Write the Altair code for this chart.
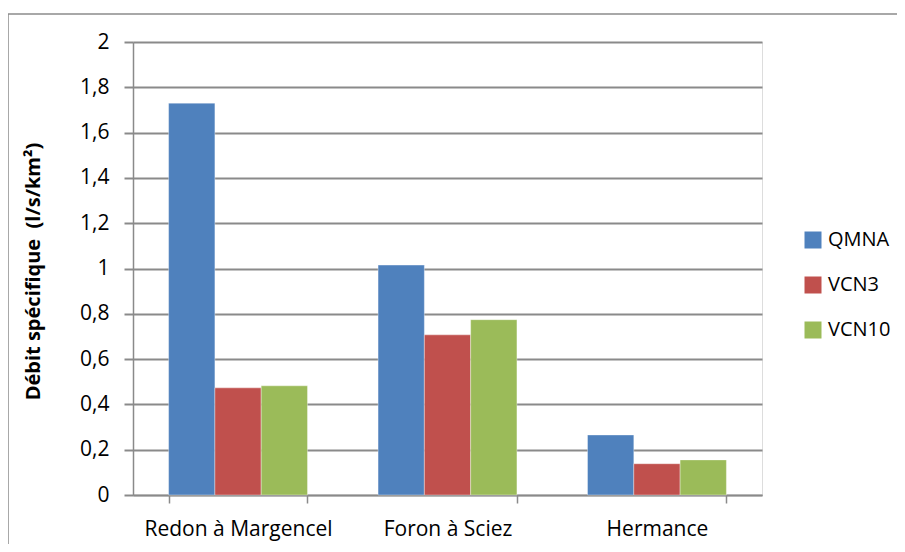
import altair as alt
import pandas as pd

categories = ["Redon à Margencel", "Foron à Sciez", "Hermance"]
series = ["QMNA", "VCN3", "VCN10"]
qmna = [1.73, 1.015, 0.265]
vcn3 = [0.473, 0.707, 0.138]
vcn10 = [0.482, 0.774, 0.155]
colors = ["#4F81BD", "#C0504D", "#9BBB59"]
y_ticks = [0, 0.2, 0.4, 0.6, 0.8, 1.0, 1.2, 1.4, 1.6, 1.8, 2.0]

rows = []
for s, vals in zip(series, [qmna, vcn3, vcn10]):
    for c, v in zip(categories, vals):
        rows.append({"Station": c, "Série": s, "Valeur": v})
df = pd.DataFrame(rows)

FONT = "Open Sans"
GRID = "#8a8a8a"
W, H = 629, 453

bars = alt.Chart(df).mark_bar(stroke="#ffffff", strokeWidth=0.6, strokeOpacity=0.6).encode(
    x=alt.X("Station:N", sort=categories, title=None,
            scale=alt.Scale(paddingInner=0.337, paddingOuter=0.17),
            axis=alt.Axis(labelAngle=0, tickBand="extent", tickSize=8, tickColor=GRID,
                          tickWidth=1.5, domainColor=GRID, domainWidth=1.5,
                          labelFontSize=21, labelFont=FONT, labelColor="#000000",
                          labelPadding=15, labelLimit=400)),
    xOffset=alt.XOffset("Série:N", sort=series, scale=alt.Scale(paddingInner=0, paddingOuter=0)),
    y=alt.Y("Valeur:Q", scale=alt.Scale(domain=[0, 2], nice=False),
            title="Débit spécifique \u00a0(l/s/km²)",
            axis=alt.Axis(values=y_ticks, grid=True, gridColor=GRID, gridWidth=2,
                          tickSize=9, tickColor=GRID, tickWidth=2,
                          domainColor=GRID, domainWidth=1.5,
                          labelExpr="replace(format(datum.value, '.1~f'), '.', ',')",
                          labelFontSize=21, labelFont=FONT, labelColor="#000000",
                          labelPadding=15,
                          titleFont=FONT, titleFontSize=20, titleFontWeight="bold",
                          titleColor="#000000", titleX=-100, titleY=229,
                          titleAlign="center", titleBaseline="middle", titleAngle=-90,
                          titleLimit=500)),
    color=alt.Color("Série:N", sort=series,
                    scale=alt.Scale(domain=series, range=colors),
                    legend=alt.Legend(title=None, orient="none", legendX=670, legendY=188,
                                      symbolType="square", symbolSize=289,
                                      symbolStrokeWidth=0, labelFontSize=20,
                                      labelFont=FONT, labelColor="#000000",
                                      labelOffset=5, rowPadding=25)),
)

border = alt.Chart(alt.Data(values=[{}])).mark_rect(
    filled=False, stroke="#8c8c8c", strokeWidth=1.5, clip=False
).encode(
    x=alt.value(-125), x2=alt.value(900), y=alt.value(-28), y2=alt.value(700)
)

chart = alt.layer(border, bars).properties(
    width=W, height=H,
    autosize=alt.AutoSizeParams(type="none"),
    padding={"left": 125, "top": 34, "right": 135, "bottom": 49},
).configure_view(stroke=None).configure(background="white")

chart.save("out.html", embed_options={"renderer": "svg", "actions": False})
